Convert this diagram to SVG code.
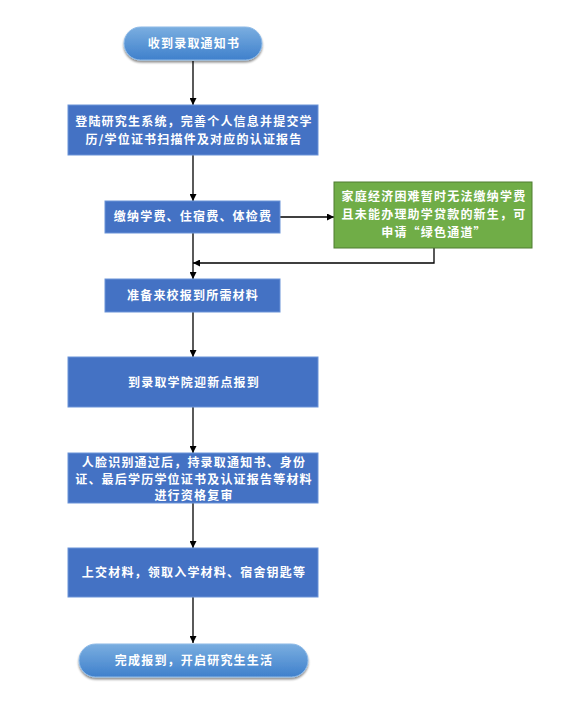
<svg xmlns="http://www.w3.org/2000/svg" width="563" height="709" viewBox="0 0 563 709">
<defs>
<linearGradient id="tg" x1="0" y1="0" x2="0" y2="1">
<stop offset="0" stop-color="#7aaee0"/>
<stop offset="1" stop-color="#3f80cc"/>
</linearGradient>
<filter id="sh" x="-10%" y="-20%" width="120%" height="160%">
<feDropShadow dx="0" dy="2" stdDeviation="1.2" flood-color="#000" flood-opacity="0.45"/>
</filter>
<marker id="ah" viewBox="0 0 10 10" refX="10" refY="5" markerWidth="7" markerHeight="7" markerUnits="userSpaceOnUse" orient="auto">
<path d="M0,0 L10,5 L0,10 z" fill="#000"/>
</marker>
</defs>
<style>
.term{fill:url(#tg);stroke:#8fbbe8;stroke-width:1;filter:url(#sh)}
.box{fill:#4472c4;stroke:#6a93d8;stroke-width:1}
.green{fill:#70ad47;stroke:#4f7c30;stroke-width:1}
.t{font-family:"Noto Sans CJK SC","Noto Sans CJK JP",sans-serif;font-size:12px;font-weight:bold;fill:#fff;text-anchor:middle;letter-spacing:1.2px}
.c{fill:none;stroke:#000;stroke-width:1.3}
</style>
<rect width="563" height="709" fill="#fff"/>
<g id="connectors">
<line class="c" x1="193" y1="61" x2="193" y2="105" marker-end="url(#ah)"/>
<line class="c" x1="193" y1="155" x2="193" y2="201" marker-end="url(#ah)"/>
<line class="c" x1="280" y1="217" x2="334" y2="217" marker-end="url(#ah)"/>
<polyline class="c" points="434,248 434,263 193,263" marker-end="url(#ah)"/>
<line class="c" x1="193" y1="233" x2="193" y2="279" marker-end="url(#ah)"/>
<line class="c" x1="193" y1="312" x2="193" y2="357" marker-end="url(#ah)"/>
<line class="c" x1="193" y1="407" x2="193" y2="453" marker-end="url(#ah)"/>
<line class="c" x1="193" y1="503" x2="193" y2="548" marker-end="url(#ah)"/>
<line class="c" x1="193" y1="597" x2="193" y2="643" marker-end="url(#ah)"/>
</g>
<g id="n1">
<rect class="term" x="124" y="27" width="138" height="33" rx="16.5"/>
<text class="t" x="194" y="48">收到录取通知书</text>
</g>
<g id="n2">
<rect class="box" x="68" y="105" width="250" height="50"/>
<text class="t" x="194" y="126">登陆研究生系统，完善个人信息并提交学</text>
<text class="t" x="194" y="144">历/学位证书扫描件及对应的认证报告</text>
</g>
<g id="n3">
<rect class="box" x="105" y="201" width="175" height="32"/>
<text class="t" x="193" y="221">缴纳学费、住宿费、体检费</text>
</g>
<g id="n4">
<rect class="green" x="334" y="182" width="198" height="66"/>
<text class="t" x="434" y="201">家庭经济困难暂时无法缴纳学费</text>
<text class="t" x="434" y="219">且未能办理助学贷款的新生，可</text>
<text class="t" x="434" y="237">申请“绿色通道”</text>
</g>
<g id="n5">
<rect class="box" x="105" y="279" width="175" height="33"/>
<text class="t" x="193" y="300">准备来校报到所需材料</text>
</g>
<g id="n6">
<rect class="box" x="68" y="357" width="250" height="50"/>
<text class="t" x="194" y="387">到录取学院迎新点报到</text>
</g>
<g id="n7">
<rect class="box" x="68" y="453" width="250" height="50"/>
<text class="t" x="194" y="467">人脸识别通过后，持录取通知书、身份</text>
<text class="t" x="194" y="484">证、最后学历学位证书及认证报告等材料</text>
<text class="t" x="194" y="500">进行资格复审</text>
</g>
<g id="n8">
<rect class="box" x="68" y="548" width="250" height="49"/>
<text class="t" x="194" y="577">上交材料，领取入学材料、宿舍钥匙等</text>
</g>
<g id="n9">
<rect class="term" x="79" y="644" width="229" height="33" rx="16.5"/>
<text class="t" x="194" y="665">完成报到，开启研究生生活</text>
</g>
</svg>
